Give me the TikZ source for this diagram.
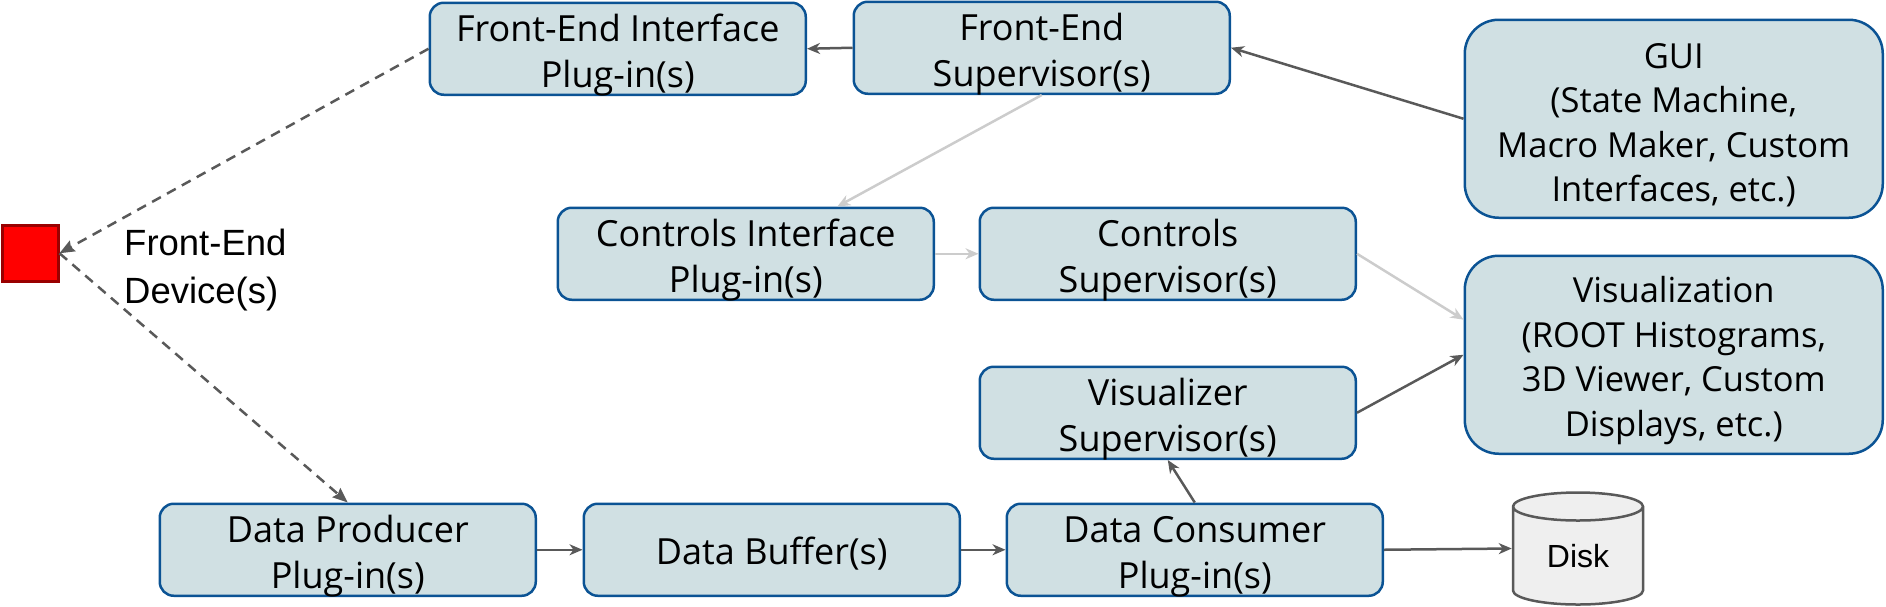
\documentclass[tikz,border=0pt]{standalone}
\usepackage{fontspec}
\setmainfont{Open Sans}
\newfontfamily\labelfont{Liberation Sans}
\usetikzlibrary{arrows.meta,calc,shapes.geometric}
\definecolor{boxfill}{HTML}{D0E0E3}
\definecolor{boxline}{HTML}{0B5394}
\definecolor{darkarrow}{HTML}{595959}
\definecolor{lightarrow}{HTML}{CCCCCC}
\definecolor{diskfill}{HTML}{EFEFEF}
\definecolor{devline}{HTML}{990000}
\newcommand{\lift}[1]{\rule{0pt}{#1pt}}
\tikzset{
	plugbox/.style={draw=boxline,fill=boxfill,line width=2.5pt,rounded corners=14pt,anchor=north west,
		align=center,minimum width=376pt,minimum height=92pt,inner xsep=0pt,inner ysep=-10pt,font=\fontsize{36}{46}\selectfont},
	bigbox/.style={plugbox,rounded corners=34pt,minimum width=418pt,minimum height=198pt,
		font=\fontsize{34.5}{44.5}\selectfont},
	flow/.style={draw=darkarrow,line width=2.5pt,-{Stealth[length=13pt,width=11pt,inset=4pt]}},
	faintflow/.style={flow,draw=lightarrow},
	linkflow/.style={flow,dashed,dash pattern=on 10pt off 7pt,-{Stealth[length=15pt,width=12pt,inset=2pt]}},
	plaintext/.style={align=left,inner sep=0pt,anchor=north west,font=\labelfont\fontsize{36.5}{48}\selectfont},
}
\begin{document}
\begin{tikzpicture}[x=1pt,y=1pt,yscale=-1,xscale=1]
	\useasboundingbox (0,0) rectangle (1886,606);

	% Front-end row
	\node [plugbox] (feif) at (428.5,1.5) {\lift{40}Front-End Interface\\Plug-in(s)};
	\node [plugbox] (fesup) at (852.5,0.5) {\lift{40}Front-End\\Supervisor(s)};
	\node [bigbox] (gui) at (1463.5,18.5) {\lift{38}GUI\\(State Machine,\\Macro Maker, Custom\\Interfaces, etc.)};

	% Controls and visualizer
	\node [plugbox] (ctrlif) at (556.5,206.5) {\lift{40}Controls Interface\\Plug-in(s)};
	\node [plugbox] (ctrlsup) at (978.5,206.5) {\lift{40}Controls\\Supervisor(s)};
	\node [bigbox] (vis) at (1463.5,254.5) {\lift{38}Visualization\\(ROOT Histograms,\\3D Viewer, Custom\\Displays, etc.)};
	\node [plugbox] (vissup) at (978.5,365.5) {\lift{40}Visualizer\\Supervisor(s)};

	% Data row
	\node [plugbox] (prod) at (158.5,502.5) {\lift{40}Data Producer\\Plug-in(s)};
	\node [plugbox] (buf) at (582.5,502.5) {\lift{36}Data Buffer(s)};
	\node [plugbox] (cons) at (1005.5,502.5) {\lift{40}Data Consumer\\Plug-in(s)};
	\node [draw=darkarrow,fill=diskfill,line width=2.5pt,shape=cylinder,shape border rotate=90,aspect=0.45,
		minimum width=130pt,minimum height=112pt,inner sep=0pt,anchor=shape center,font=\labelfont\fontsize{32}{36}\selectfont] (disk) at (1578,548.5) {Disk};

	% Device
	\node [draw=devline,fill=red,line width=2.5pt,minimum size=56pt,inner sep=0pt,anchor=north west] (device) at (1,224) {};
	\node [plaintext] (devlabel) at (124,229) {Front-End\\Device(s)};

	\coordinate (ctrlin) at ($(ctrlif.north west)!0.742!(ctrlif.north east)$);
	\coordinate (visin) at ($(vis.north west)!0.325!(vis.south west)$);
	\coordinate (diskin) at (disk.west |- disk.shape center);

	% Connectors
	\draw [flow] (fesup.west) -- (feif.east);
	\draw [flow] (gui.west) -- (fesup.east);
	\draw [faintflow] (fesup.south) -- (ctrlin);
	\draw [faintflow] (ctrlif.east) -- (ctrlsup.west);
	\draw [faintflow] (ctrlsup.east) -- (visin);
	\draw [flow] (vissup.east) -- (vis.west);
	\draw [flow] (cons.north) -- (vissup.south);
	\draw [flow] (prod.east) -- (buf.west);
	\draw [flow] (buf.east) -- (cons.west);
	\draw [flow] (cons.east) -- (diskin);
	\draw [linkflow] (feif.west) -- (device.east);
	\draw [linkflow] (device.east) -- (prod.north);
\end{tikzpicture}
\end{document}
